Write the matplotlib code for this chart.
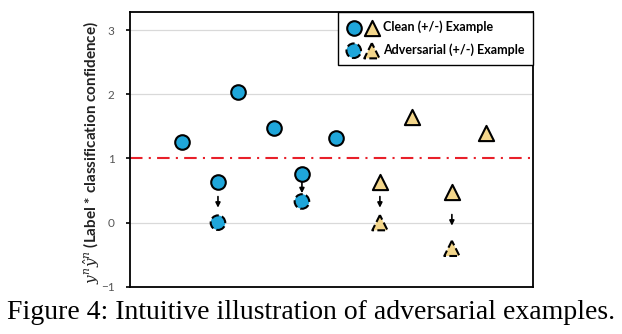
import matplotlib.pyplot as plt
from matplotlib.legend_handler import HandlerTuple
from matplotlib.transforms import offset_copy

# clean / adversarial examples (positive = circles, negative = triangles)
pos_x = [1.3, 2.2, 2.7, 3.6, 4.3, 5.15]
pos_clean = [1.26, 0.64, 2.04, 1.48, 0.76, 1.32]
neg_x = [6.25, 7.05, 8.05, 8.9]
neg_clean = [0.64, 1.65, 0.48, 1.40]

# attacked points: index of the clean point -> adversarial value
pos_adv_idx = [1, 4]
pos_adv = [0.0, 0.33]
neg_adv_idx = [0, 2]
neg_adv = [0.0, -0.40]

blue = '#1FA6DA'
tan = '#F3D68B'

plt.rcParams['font.family'] = ['Lato', 'DejaVu Sans']
plt.rcParams['mathtext.fontset'] = 'dejavuserif'

fig = plt.figure(figsize=(6.22, 3.34), dpi=100)
ax = fig.add_axes([0.209, 0.141, 0.648, 0.823])

ax.set_xlim(0, 10.08)
ax.set_ylim(-1, 3.28)
ax.set_yticks([-1, 0, 1, 2, 3])
ax.set_xticks([])
for y in [0, 2, 3]:
    ax.axhline(y, color='#d9d9d9', lw=0.9, zorder=0)
ax.axhline(1, color='#e8202a', lw=1.5, ls=(0, (6, 3, 1, 3)), zorder=1)

sc_pos = ax.scatter(pos_x, pos_clean, s=110, c=blue, edgecolors='black', linewidths=1.5, zorder=3)
sc_neg = ax.scatter(neg_x, neg_clean, s=120, marker='^', c=tan, edgecolors='black',
                    linewidths=1.5, zorder=3)
sc_pos_adv = ax.scatter([pos_x[i] for i in pos_adv_idx], pos_adv, s=110, c=blue,
                        edgecolors='black', linewidths=1.5, linestyles='--', zorder=3)
sc_neg_adv = ax.scatter([neg_x[i] for i in neg_adv_idx], neg_adv, s=120, marker='^', c=tan,
                        edgecolors='black', linewidths=1.5, linestyles='--', zorder=3)

# short arrows between clean and adversarial points
top_off = offset_copy(ax.transData, fig=fig, x=0, y=4, units='points')
bot_off = offset_copy(ax.transData, fig=fig, x=0, y=-4, units='points')
pairs = [(pos_x[i], pos_clean[i], a) for i, a in zip(pos_adv_idx, pos_adv)] + \
        [(neg_x[i], neg_clean[i], a) for i, a in zip(neg_adv_idx, neg_adv)]
for x, c, a in pairs:
    mid = (c + a) / 2
    ax.annotate('', xy=(x, mid), xycoords=bot_off, xytext=(x, mid), textcoords=top_off,
                arrowprops=dict(arrowstyle='-|>', color='black', lw=1.2,
                                mutation_scale=7, shrinkA=0, shrinkB=0), zorder=4)

for s in ax.spines.values():
    s.set_color('black')
    s.set_linewidth(1.3)
ax.tick_params(axis='y', direction='out', length=3, width=1.2, colors='black',
               labelcolor='#555555', labelsize=8.5, pad=8)

ax.set_ylabel(r'$y^n\hat{y}^n$ (Label * classification confidence)', fontsize=11,
              fontweight='bold', color='#222222')
ax.yaxis.set_label_coords(-0.072, 0.49)

leg = ax.legend([(sc_pos, sc_neg), (sc_pos_adv, sc_neg_adv)],
                ['Clean (+/-) Example', 'Adversarial (+/-) Example'],
                handler_map={tuple: HandlerTuple(ndivide=None, pad=0.3)},
                scatterpoints=1, loc='upper right', borderaxespad=0, fancybox=False,
                framealpha=1, edgecolor='black', handlelength=2.6, handletextpad=0.3,
                prop={'size': 9, 'weight': 'bold'}, borderpad=0.7, labelspacing=0.8)
leg.get_frame().set_linewidth(1.0)

fig.text(0.5, 0.063, 'Figure 4: Intuitive illustration of adversarial examples.',
         ha='center', va='center', fontsize=20, family='Liberation Serif')

fig.savefig('out.png', dpi=100)
